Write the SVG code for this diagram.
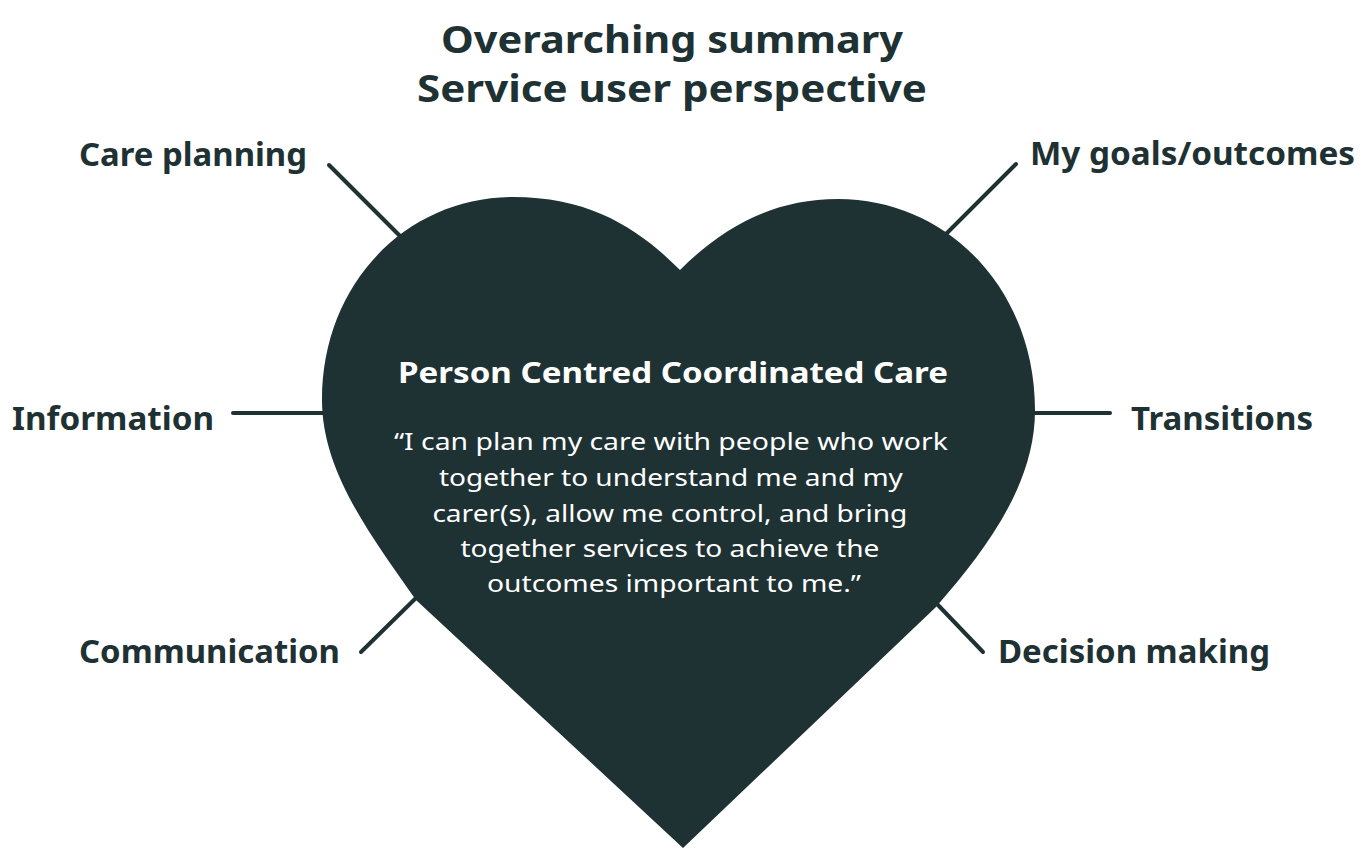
<svg xmlns="http://www.w3.org/2000/svg" width="1370" height="850" viewBox="0 0 1370 850">
<style>
.lbl{font-family:"Noto Sans","Open Sans","Liberation Sans",sans-serif;font-weight:700;font-size:32px;fill:#1e3133}
.ttl{font-family:"Noto Sans","Open Sans","Liberation Sans",sans-serif;font-weight:700;font-size:38px;fill:#1e3133}
.head{font-family:"Noto Sans","Open Sans","Liberation Sans",sans-serif;font-weight:700;font-size:29px;fill:#ffffff}
.quote{font-family:"Noto Sans","Open Sans","Liberation Sans",sans-serif;font-weight:400;font-size:24px;fill:#ffffff}
.conn{stroke:#1e3133;stroke-width:4;stroke-linecap:round;fill:none}
</style>
<rect width="1370" height="850" fill="#ffffff"/>
<g id="title">
<text class="ttl" x="672" y="53" text-anchor="middle" textLength="462" lengthAdjust="spacingAndGlyphs">Overarching summary</text>
<text class="ttl" x="672" y="102" text-anchor="middle" textLength="510" lengthAdjust="spacingAndGlyphs">Service user perspective</text>
</g>
<g id="connectors">
<line class="conn" x1="329" y1="165" x2="403" y2="239"/>
<line class="conn" x1="1016" y1="164" x2="946" y2="234"/>
<line class="conn" x1="233" y1="413" x2="324" y2="413"/>
<line class="conn" x1="1033" y1="413" x2="1110" y2="413"/>
<line class="conn" x1="361" y1="652" x2="418" y2="596"/>
<line class="conn" x1="983" y1="652" x2="938" y2="605"/>
</g>
<g id="heart">
<path d="M 683 848 L 416 600 C 368 532 322 470 322 400 C 322 282 408 197 513 197 C 592 197 640 230 680 270 C 720 230 770 199 838 199 C 948 199 1035 290 1035 410 C 1035 482 990 545 936 607 Z" fill="#1e3133"/>
<text class="head" x="673" y="383" text-anchor="middle" textLength="550" lengthAdjust="spacingAndGlyphs">Person Centred Coordinated Care</text>
<text class="quote" text-anchor="middle">
<tspan x="674" y="450" textLength="554" lengthAdjust="spacingAndGlyphs">“I can plan my care with people who work</tspan>
<tspan x="674" y="486" textLength="464" lengthAdjust="spacingAndGlyphs">together to understand me and my</tspan>
<tspan x="673" y="522" textLength="475" lengthAdjust="spacingAndGlyphs">carer(s), allow me control, and bring</tspan>
<tspan x="673" y="557" textLength="419" lengthAdjust="spacingAndGlyphs">together services to achieve the</tspan>
<tspan x="674" y="592" textLength="374" lengthAdjust="spacingAndGlyphs">outcomes important to me.”</tspan>
</text>
</g>
<g id="node-care-planning"><text class="lbl" x="79" y="166" textLength="228" lengthAdjust="spacingAndGlyphs">Care planning</text></g>
<g id="node-my-goals"><text class="lbl" x="1030" y="165" textLength="325" lengthAdjust="spacingAndGlyphs">My goals/outcomes</text></g>
<g id="node-information"><text class="lbl" x="12" y="430" textLength="202" lengthAdjust="spacingAndGlyphs">Information</text></g>
<g id="node-transitions"><text class="lbl" x="1131" y="430" textLength="182" lengthAdjust="spacingAndGlyphs">Transitions</text></g>
<g id="node-communication"><text class="lbl" x="79" y="663" textLength="261" lengthAdjust="spacingAndGlyphs">Communication</text></g>
<g id="node-decision-making"><text class="lbl" x="998" y="663" textLength="272" lengthAdjust="spacingAndGlyphs">Decision making</text></g>
</svg>
